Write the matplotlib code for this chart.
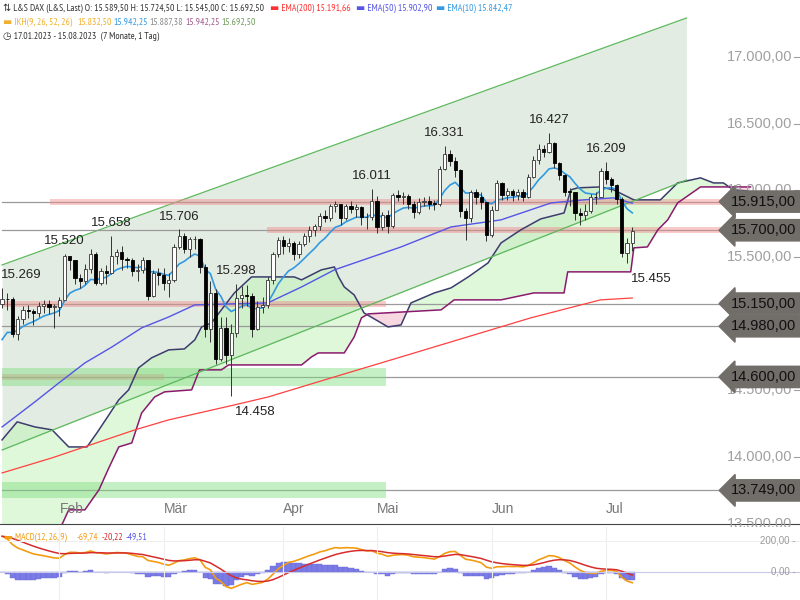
import matplotlib
matplotlib.use("Agg")
import matplotlib.pyplot as plt
from matplotlib import font_manager
import numpy as np

plt.rcParams["font.family"] = ["Liberation Sans", "DejaVu Sans"]
narrow = [f.name for f in font_manager.fontManager.ttflist if "Narrow" in f.name]
HEAD_FONT = [narrow[0], "DejaVu Sans"] if narrow else ["Liberation Sans", "DejaVu Sans"]

# daily candles 17.01.2023 - 10.07.2023 (bar index 0..121)
closes = [15187, 15181, 14920, 15033, 15103, 15093, 15082, 15132, 15150, 15126, 15128,
          15180, 15509, 15476, 15345, 15320, 15412, 15523, 15307, 15397, 15380, 15506,
          15534, 15482, 15477, 15398, 15400, 15475, 15210, 15381, 15365,
          15305, 15328, 15578, 15654, 15559, 15632, 15633, 15428, 14959, 15233, 14735,
          14967, 14768, 14933, 15195, 15216, 15210, 14957, 15128, 15142, 15329, 15522, 15628,
          15581, 15603, 15520, 15597, 15655, 15703, 15729, 15808, 15789, 15882, 15896,
          15795, 15882, 15863, 15872, 15796, 15800, 15922,
          15726, 15815, 15734, 15961, 15952, 15955, 15897, 15834, 15914, 15917, 15898,
          15897, 16163, 16275, 16223, 16152, 15842, 15794, 15984, 15952, 15909, 15664,
          15853, 16051, 15964, 15993, 15961, 15990, 15949, 16097, 16230, 16311, 16290,
          16358, 16201, 16111, 15989, 15988, 15830, 15813, 15846, 15949, 15947, 16148,
          16081, 16039, 15938, 15529, 15603, 15693]
highs = [15269, 15230, 15200, 15060, 15130, 15140, 15110, 15160, 15180, 15180, 15150,
         15200, 15520, 15500, 15480, 15370, 15450, 15560, 15540, 15420, 15440, 15658,
         15560, 15580, 15500, 15490, 15450, 15500, 15480, 15400, 15420,
         15420, 15380, 15600, 15706, 15680, 15650, 15660, 15640, 15450, 15320, 15260,
         15050, 15050, 15000, 15298, 15280, 15290, 15230, 15170, 15200, 15350, 15540, 15650,
         15660, 15640, 15620, 15620, 15680, 15730, 15750, 15830, 15850, 15900, 15920,
         15900, 15900, 15920, 15900, 15880, 15830, 16011,
         15960, 15840, 15850, 15980, 16000, 15990, 15970, 15920, 15940, 15950, 15960,
         15930, 16180, 16331, 16300, 16250, 16160, 15870, 16000, 16010, 15990, 15910,
         15880, 16080, 16060, 16020, 16010, 16010, 16010, 16120, 16260, 16350, 16340,
         16427, 16360, 16210, 16120, 16020, 15990, 15870, 15900, 15970, 15990, 16170,
         16209, 16100, 16050, 15950, 15640, 15725]
lows = [15120, 15100, 14900, 14880, 15000, 15040, 14990, 15050, 15080, 15070, 14970,
        15060, 15200, 15400, 15300, 15270, 15300, 15380, 15290, 15290, 15300, 15370,
        15450, 15400, 15420, 15360, 15320, 15380, 15180, 15200, 15290,
        15250, 15200, 15310, 15560, 15530, 15500, 15560, 15380, 14900, 14860, 14700,
        14720, 14700, 14458, 14900, 15120, 15130, 14900, 14950, 15080, 15120, 15300, 15500,
        15520, 15540, 15480, 15490, 15580, 15610, 15660, 15700, 15760, 15770, 15840,
        15740, 15780, 15830, 15800, 15740, 15710, 15780,
        15680, 15700, 15680, 15720, 15920, 15900, 15860, 15790, 15820, 15880, 15860,
        15850, 15880, 16150, 16180, 16100, 15800, 15630, 15760, 15900, 15860, 15620,
        15650, 15850, 15930, 15930, 15920, 15930, 15920, 15940, 16090, 16200, 16250,
        16280, 16170, 16080, 15960, 15880, 15780, 15740, 15780, 15830, 15900, 15950,
        16050, 15990, 15900, 15500, 15455, 15545]
first_open = 15150

# indicator lines (bar index, price)
ema50_idx = [0, 6.3, 10.9, 15.9, 21.1, 26.8, 32, 37, 44, 51, 57.5, 63.8, 76.6, 86.2, 95.8, 105.4, 111.7, 117.4, 121]
ema50_val = [14225, 14413, 14555, 14705, 14825, 14968, 15050, 15140, 15148, 15155, 15275, 15403, 15575, 15725, 15778, 15905, 15928, 15943, 15903]
ema200_idx = [0, 9.6, 25.5, 32, 44.6, 51.1, 63.8, 76.6, 101.5, 114.9, 121]
ema200_val = [13880, 13993, 14203, 14278, 14390, 14450, 14600, 14750, 15043, 15178, 15192]
spanA_idx = [0, 2.9, 6.3, 9.6, 12.8, 16.3, 18.2, 20.5, 22.4, 24.3, 26.2, 28.7, 32, 35, 37, 38.3, 40.2, 42.1,
             44.6, 47.9, 56.1, 57.5, 61.3, 63.8, 64.6, 65.7, 67.6, 69.5, 74.1, 76.6, 78.5, 83, 86.2, 89.5,
             93.3, 95.8, 99.6, 103.4, 107.9, 109.2, 110.5, 114.9, 117.4, 121.3, 126.4, 129.7, 134.1, 136.6,
             138.5, 140.4, 143.1]
spanA_val = [14128, 14263, 14225, 14203, 14075, 14075, 14180, 14315, 14428, 14503, 14668, 14743, 14803, 14810,
             14878, 14975, 15005, 15103, 15230, 15350, 15350, 15328, 15403, 15425, 15350, 15275, 15215, 15080,
             14975, 14990, 15155, 15230, 15268, 15350, 15455, 15605, 15703, 15785, 15830, 16003, 16018, 16025,
             16003, 15928, 15928, 16055, 16093, 16055, 16055, 16003, 15995]
spanB_idx = [0, 11, 12.8, 15.9, 18.6, 20.5, 22.4, 24.9, 26.8, 29.3, 31.2, 36.4, 37.9, 42.1, 43.5, 57.5, 59.4,
             60.7, 65.7, 67.6, 69, 70.3, 84.3, 86.8, 95.8, 102.1, 107.9, 108.6, 120.7, 121.3, 123.9, 125.9,
             127.8, 129.7, 134.1, 140.4, 143.7]
spanB_val = [13000, 13450, 13603, 13603, 13753, 13918, 14075, 14105, 14330, 14450, 14488, 14503, 14653, 14653,
             14690, 14690, 14750, 14780, 14780, 14900, 15043, 15073, 15103, 15178, 15178, 15230, 15230, 15388,
             15388, 15568, 15575, 15703, 15778, 15905, 16025, 16025, 16025]

# trend channel (start/end)
chan_idx = [0, 131.4]
chan_upper = [15440, 17292]
chan_lower = [14052, 16077]

levels = [15915, 15700, 15150, 14980, 14600, 13749]
level_labels = ["15.915,00", "15.700,00", "15.150,00", "14.980,00", "14.600,00", "13.749,00"]
red_bands = [(15915, 9.2, 140.4), (15700, 50.8, 140.4), (15150, 0, 73.8), (14600, 0, 31)]
green_bands = [(14600, 0, 73.8, 70), (13749, 0, 73.8, 60)]

yticks = [17000, 16500, 16000, 15500, 14500, 14000, 13500]
ytick_labels = ["17.000,00", "16.500,00", "16.000,00", "15.500,00", "14.500,00", "14.000,00", "13.500,00"]
months = ["Feb", "Mär", "Apr", "Mai", "Jun", "Jul"]
month_idx = [11, 31, 54, 72, 94, 116]

# swing labels: (bar index, value, above?)
swings = [(0, 15269, True), (12, 15520, True), (21, 15658, True), (34, 15706, True), (45, 15298, True),
          (71, 16011, True), (85, 16331, True), (105, 16427, True), (116, 16209, True),
          (120, 15455, False), (44, 14458, False)]


def ema(vals, span, seed):
    a = 2.0 / (span + 1)
    out = [seed]
    for v in vals[1:]:
        out.append(out[-1] + a * (v - out[-1]))
    return np.array(out)


n = len(closes)
idx = np.arange(n)
c = np.array(closes, float)
o = np.array([first_open] + closes[:-1], float)
ema10 = ema(closes, 10, 14880)
macd = ema(closes, 12, 15180) - ema(closes, 26, 14950)
signal = ema(list(macd), 9, 230)
hist = macd - signal

fig = plt.figure(figsize=(8, 6), dpi=100)
ax = fig.add_axes([0, 76 / 600, 1, 524 / 600])
axm = fig.add_axes([0, 0, 1, 73 / 600])
XMAX = 153.2

# channel
ax.fill_between(chan_idx, chan_lower, chan_upper, color="#e3ece2", zorder=0, lw=0)
ax.plot(chan_idx, chan_upper, color="#5cb85c", lw=0.9, zorder=1)
ax.plot(chan_idx, chan_lower, color="#5cb85c", lw=0.9, zorder=4)

# ichimoku cloud
g = np.arange(0, 143.7, 0.05)
ga = np.interp(g, spanA_idx, spanA_val)
gb = np.interp(g, spanB_idx, spanB_val)
ax.fill_between(g, ga, gb, where=ga >= gb, color="#bff2b5", alpha=0.5, lw=0, zorder=1)
ax.fill_between(g, ga, gb, where=ga < gb, color="#f5c6d4", alpha=0.7, lw=0, zorder=1)
ax.plot(spanA_idx, spanA_val, color="#3c3c6e", lw=1.1, zorder=3)
ax.plot(spanB_idx, spanB_val, color="#8a1a6e", lw=1.1, zorder=3)

# horizontal levels
for lv in levels:
    ax.plot([0, 143], [lv, lv], color="#9a9a9a", lw=0.9, zorder=2)
for lv, x0, x1 in red_bands:
    ax.fill_between([x0, x1], lv - 22, lv + 22, color="#f08a8a", alpha=0.45, lw=0, zorder=2)
for lv, x0, x1, h in green_bands:
    ax.fill_between([x0, x1], lv - h, lv + h, color="#7fdc7f", alpha=0.45, lw=0, zorder=2)

# moving averages
ax.plot(ema200_idx, ema200_val, color="#ff4040", lw=0.9, zorder=5)
ax.plot(ema50_idx, ema50_val, color="#5555e6", lw=1.0, zorder=5)
ax.plot(idx, ema10, color="#3399e0", lw=1.2, zorder=6)

# candles
up = c >= o
ax.vlines(idx, lows, highs, color="#333333", lw=0.7, zorder=7)
body_lo = np.minimum(o, c)
body_h = np.maximum(np.abs(c - o), 4)
ax.bar(idx[up], body_h[up], bottom=body_lo[up], width=0.62, color="white", edgecolor="#333333", lw=0.6, zorder=8)
ax.bar(idx[~up], body_h[~up], bottom=body_lo[~up], width=0.62, color="black", edgecolor="black", lw=0.6, zorder=8)

for k, (i, v, above) in enumerate(swings):
    lab = f"{v:,}".replace(",", ".")
    if k == 0:
        ha, dx = "left", -1
    elif above:
        ha, dx = "center", 0
    else:
        ha, dx = "left", 3
    ax.annotate(lab, (i, v), xytext=(dx, 5 if above else -7), textcoords="offset points",
                ha=ha, va="bottom" if above else "top",
                fontsize=9.5, color="#222222", zorder=10)

# right scale
for v, t in zip(yticks, ytick_labels):
    ax.text(0.99, v, t, transform=ax.get_yaxis_transform(), ha="right", va="center", fontsize=10.5, color="#a0a0a0")
    ax.plot([0.993, 1.0], [v, v], transform=ax.get_yaxis_transform(), color="#a0a0a0", lw=0.8)
for lv, t in zip(levels, level_labels):
    ax.text(0.995, lv, t, transform=ax.get_yaxis_transform(), ha="right", va="center", fontsize=10.5,
            color="#111111", zorder=12,
            bbox=dict(boxstyle="larrow,pad=0.25", fc="#716d69", ec="#716d69"))

for m, i in zip(months, month_idx):
    ax.text(i, 13610, m, ha="left", va="center", fontsize=10, color="#777777")

ax.set_xlim(-0.4, XMAX)
ax.set_ylim(13497, 17427)
ax.set_xticks([])
ax.set_yticks([])
for s in ["top", "left", "right"]:
    ax.spines[s].set_visible(False)
ax.spines["bottom"].set_color("#444444")

# MACD
axm.bar(idx, hist, width=1.0, color="#7b7be6", edgecolor="#6a6ad8", lw=0.3)
axm.plot(idx, macd, color="#f39c12", lw=1.2)
axm.plot(idx, signal, color="#d62c2c", lw=1.1)
axm.axhline(0, color="#c8c8e8", lw=0.8)
axm.axhline(200, color="#eeeeee", lw=0.8)
for i in month_idx:
    axm.axvline(i, color="#eeeeee", lw=0.8)
axm.text(0.995, 200, "200,00 -", transform=axm.get_yaxis_transform(), ha="right", va="center", fontsize=7, color="#999999")
axm.text(0.995, 0, "0,00 -", transform=axm.get_yaxis_transform(), ha="right", va="center", fontsize=7, color="#999999")
axm.set_xlim(-0.4, XMAX)
axm.set_ylim(-181, 290)
axm.set_xticks([])
axm.set_yticks([])
for s in axm.spines.values():
    s.set_visible(False)


def htext(x, y, s, col, size=7.0):
    fig.text(x / 800, 1 - y / 600, s, fontsize=size, color=col, va="center", ha="left", family=HEAD_FONT)


htext(4, 537, "▬ MACD(12, 26, 9)", "#f39c12", 6.8)
htext(77, 537, "-69,74", "#f39c12", 6.8)
htext(102, 537, "-20,22", "#d62c2c", 6.8)
htext(126, 537, "-49,51", "#5555e6", 6.8)

# header
htext(3, 8, "⇅ L&S DAX (L&S, Last) O: 15.589,50 H: 15.724,50 L: 15.545,00 C: 15.692,50", "#333333")
htext(270, 8, "▬ EMA(200) 15.191,66", "#ff3030")
htext(356, 8, "▬ EMA(50) 15.902,90", "#5555e6")
htext(436, 8, "▬ EMA(10) 15.842,47", "#3399e0")
htext(3, 22, "▬ IKH(9, 26, 52, 26)", "#f0b030")
htext(77, 22, "15.832,50", "#f0b030")
htext(113, 22, "15.942,25", "#3399e0")
htext(149, 22, "15.887,38", "#888888")
htext(185, 22, "15.942,25", "#a05a8a")
htext(221, 22, "15.692,50", "#6f9a5a")
htext(3, 36, "◷ 17.01.2023 - 15.08.2023  (7 Monate, 1 Tag)", "#333333")

fig.savefig("out.png", dpi=100)
